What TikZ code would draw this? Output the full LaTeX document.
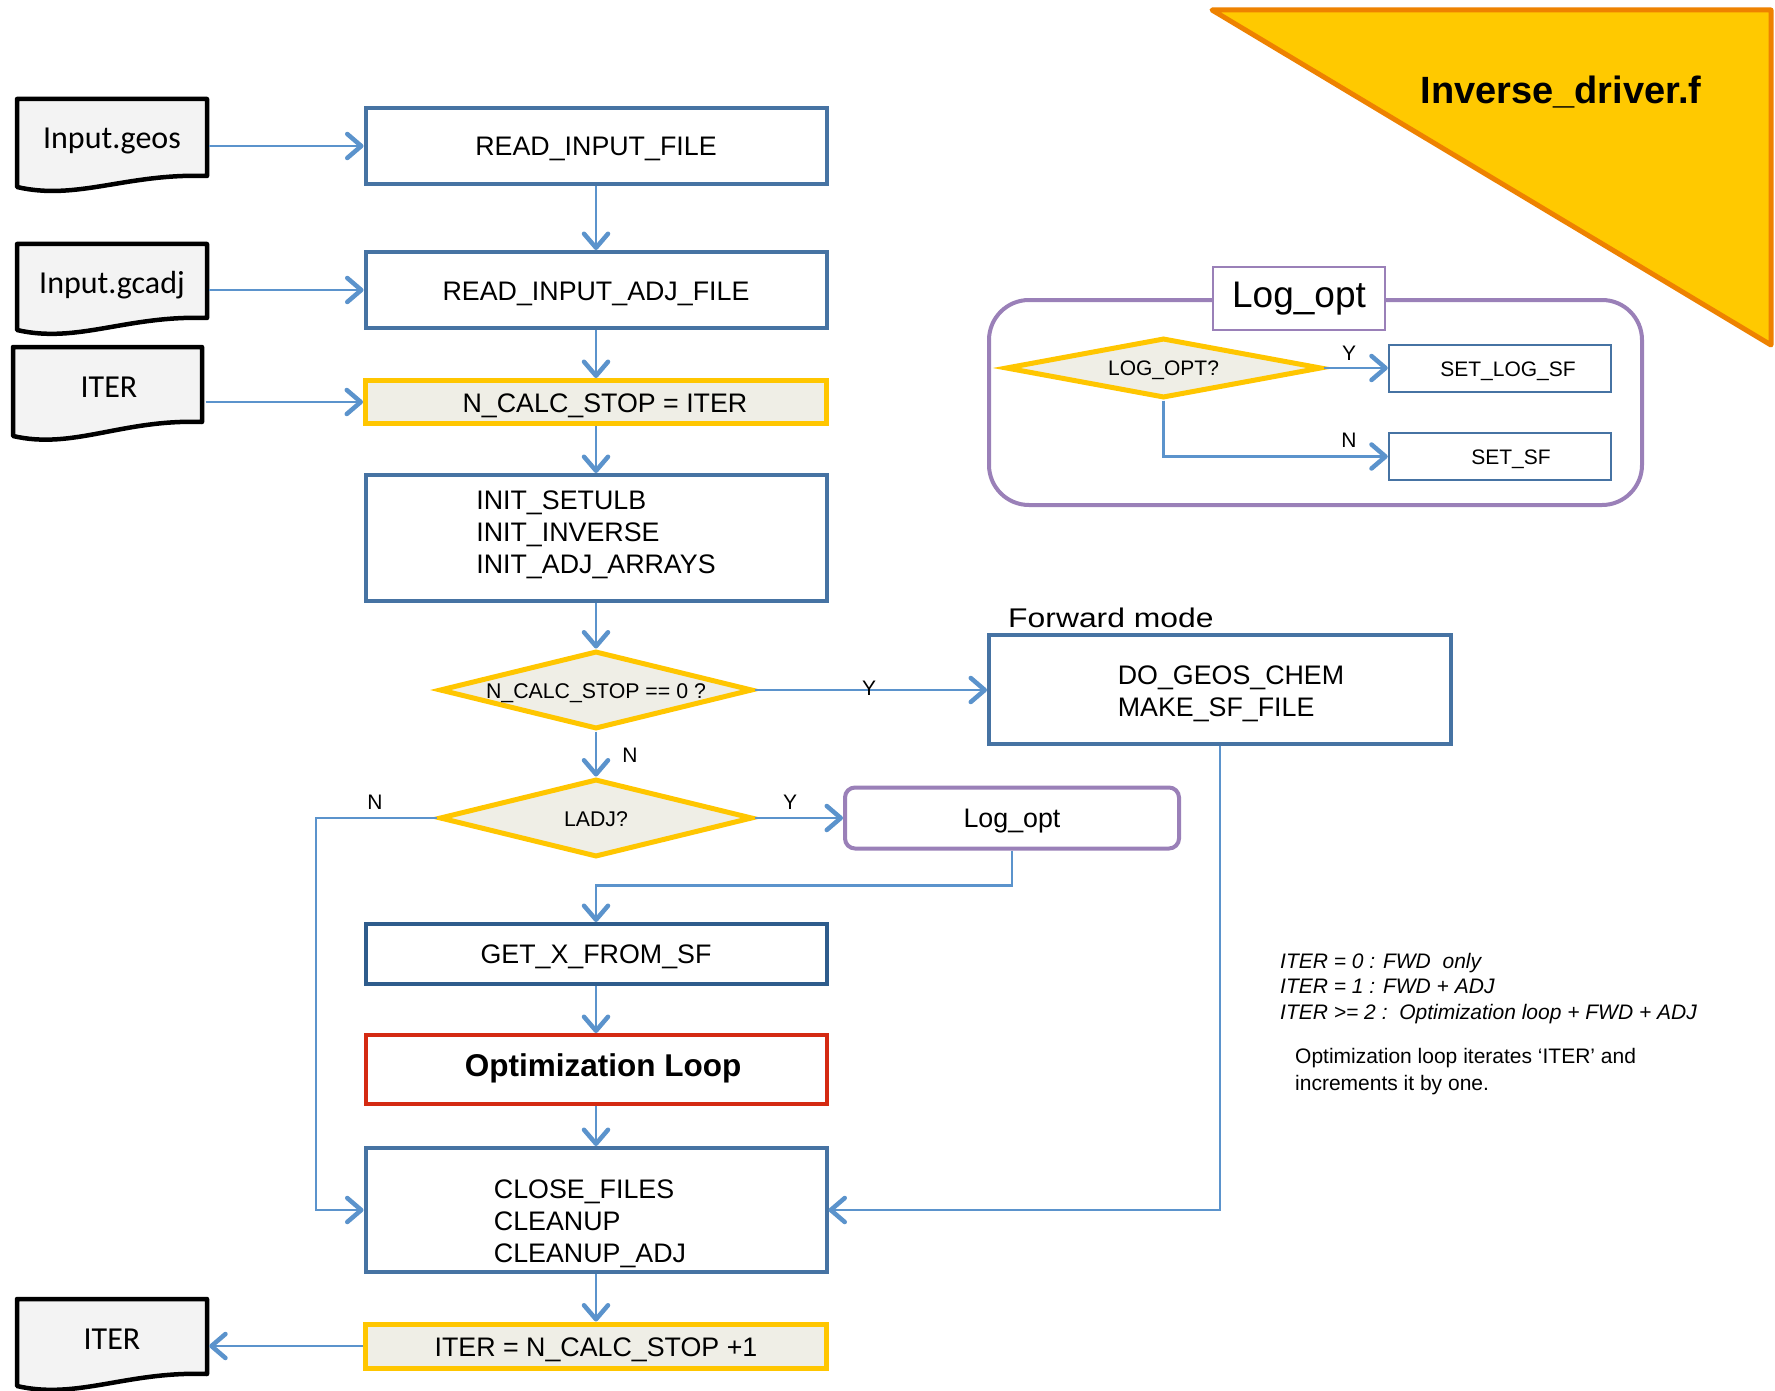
\documentclass[tikz,border=0pt]{standalone}
\usepackage{fontspec}
\setmainfont{Liberation Sans}
\newfontfamily\docfont{Carlito}
\usetikzlibrary{shapes.geometric,arrows.meta}

\definecolor{boxblue}{HTML}{4673A3}
\definecolor{darkblue}{HTML}{2E5C8C}
\definecolor{linkblue}{HTML}{5B93CC}
\definecolor{gold}{HTML}{FFC600}
\definecolor{paper}{HTML}{EFEEE6}
\definecolor{lilac}{HTML}{9A80B8}
\definecolor{alarm}{HTML}{D42A12}
\definecolor{sun}{HTML}{FFC900}
\definecolor{rust}{HTML}{EE8200}
\definecolor{sheet}{HTML}{F3F3F3}

% document (wavy-bottom) sheet: name, left x, top y, right x, right-bottom y, left-bottom y, centre x, baseline y, text
\newcommand{\docsheet}[9]{%
  \draw[sheetline] (#2,#3) -- (#4,#3) -- (#4,#5)
    .. controls +(-80,-3) and +(60,14) .. (#2,#6) -- cycle;
  \node[sheettext, minimum width=#4pt-#2pt+4pt, anchor=base] (#1) at (#7,#8) {#9};
}

\tikzset{
  sheetline/.style={draw=black, fill=sheet, line width=4.5pt, line join=round},
  sheettext/.style={inner sep=0pt, font=\docfont\fontsize{32}{36}\selectfont},
  flowbox/.style={draw=boxblue, fill=white, line width=4pt, minimum width=461pt,
    inner sep=0pt, text depth=0pt, text height=20pt,
    font=\fontsize{26.8}{32}\selectfont, align=left},
  setbox/.style={draw=gold, fill=paper, line width=5pt, minimum width=461pt,
    inner sep=0pt, text depth=0pt, text height=21pt,
    font=\fontsize{26.8}{32}\selectfont},
  decision/.style={diamond, aspect=4, draw=gold, fill=paper, line width=5pt,
    inner sep=0pt, text depth=0pt, text height=16pt,
    font=\fontsize{21.3}{25}\selectfont},
  small/.style={draw=boxblue, fill=white, line width=2.5pt, minimum width=222pt,
    minimum height=47pt, inner sep=0pt, text depth=0pt, text height=15pt,
    font=\fontsize{21}{25}\selectfont},
  tag/.style={inner sep=0pt, font=\fontsize{21}{25}\selectfont},
  link/.style={draw=linkblue, line width=2.5pt,
    -{Straight Barb[length=14pt,width=24pt,line width=4.5pt,round]}},
}

\begin{document}
\begin{tikzpicture}[x=1pt,y=-1pt]
\fill[white] (0,0) rectangle (1775,1391);
\useasboundingbox (0,0) rectangle (1775,1391);

% title corner
\draw[rust, fill=sun, line width=5pt, line join=round]
  (1212,10) -- (1771,10) -- (1771,345) -- cycle;
\node[anchor=base, inner sep=0pt, font=\bfseries\fontsize{38}{42}\selectfont]
  (title) at (1561,104) {Inverse\_driver.f};

% input / output sheets
\docsheet{geos}{17}{99}{207}{176}{187}{112}{149}{Input.geos}
\docsheet{gcadj}{17}{244}{207}{318}{330}{112}{293}{Input.gcadj}
\docsheet{iterin}{13}{347}{202}{422}{436}{109}{397}{ITER}
\docsheet{iterout}{17}{1299}{207}{1374}{1386}{112}{1349}{ITER}

% main flow
\node[flowbox, minimum height=76pt] (rif) at (596,146) {READ\_INPUT\_FILE};
\node[flowbox, minimum height=76pt] (riaf) at (596,290) {READ\_INPUT\_ADJ\_FILE};
\node[setbox, minimum height=43pt] (ncs) at (596,402) {\hspace*{18pt}N\_CALC\_STOP = ITER};
\node[flowbox, minimum height=126pt, text height=70pt] (init) at (596,538)
  {INIT\_SETULB\\INIT\_INVERSE\\INIT\_ADJ\_ARRAYS};
\node[decision, minimum width=313pt, minimum height=78pt] (d1) at (596,690)
  {N\_CALC\_STOP == 0 ?};
\node[decision, minimum width=313pt, minimum height=78pt] (d2) at (596,818) {LADJ?};
\node[draw=lilac, fill=white, line width=4pt, rounded corners=10pt,
  minimum width=334pt, minimum height=61pt, inner sep=0pt, text depth=0pt, text height=19pt,
  font=\fontsize{26.8}{32}\selectfont] (logbox) at (1012,818) {Log\_opt};
\node[flowbox, draw=darkblue, minimum height=60pt, text height=19pt] (getx) at (596,954)
  {GET\_X\_FROM\_SF};
\node[flowbox, draw=alarm, minimum height=69pt, text height=14pt,
  font=\bfseries\fontsize{31.5}{36}\selectfont] (opt) at (596,1069.5)
  {\hspace*{14pt}Optimization Loop};
\node[flowbox, minimum height=124pt, text height=104pt] (close) at (596,1210)
  {CLOSE\_FILES\\CLEANUP\\CLEANUP\_ADJ\hspace*{12pt}};
\node[setbox, minimum height=44pt] (iter2) at (596,1346) {ITER = N\_CALC\_STOP +1};

% forward mode
\node[flowbox, minimum width=462pt, minimum height=109pt, text height=53pt] (fwd) at (1220,689.5)
  {\hspace*{22pt}DO\_GEOS\_CHEM\\\hspace*{22pt}MAKE\_SF\_FILE};
\node[anchor=base west, inner sep=0pt, font=\fontsize{27}{32}\selectfont]
  (fwdlabel) at (1008,627) {\scalebox{1.18}[1]{Forward mode}};

% Log_opt detail
\draw[lilac, line width=4pt, rounded corners=40pt] (989,300) rectangle (1642,505);
\node[draw=lilac, fill=white, line width=2.5pt, minimum width=172pt, minimum height=63pt,
  inner sep=0pt, font=\fontsize{37}{42}\selectfont] (lotitle) at (1299,298.5) {Log\_opt};
\node[decision, minimum width=316pt, minimum height=60pt, text height=15pt,
  font=\fontsize{21}{25}\selectfont] (lodec) at (1163.5,368) {LOG\_OPT?};
\node[small] (setlog) at (1500,368.5) {\hspace*{16pt}SET\_LOG\_SF};
\node[small] (setsf) at (1500,456.5) {\hspace*{22pt}SET\_SF};
\draw[link] (lodec.east) -- (lodec.east -| setlog.west);
\draw[link] (lodec.south) |- (setsf.west);
\node[tag] (ly) at (1349,353) {Y};
\node[tag] (ln) at (1349,440) {N};

% connectors
\draw[link] (geos.east |- rif.west) -- (rif.west);
\draw[link] (gcadj.east |- riaf.west) -- (riaf.west);
\draw[link] (iterin.east |- ncs.west) -- (ncs.west);
\draw[link] (rif) -- (riaf);
\draw[link] (riaf) -- (ncs);
\draw[link] (ncs) -- (init);
\draw[link] (init) -- (d1);
\draw[link] (d1) -- (d2);
\draw[link] (d1.east) -- (d1.east -| fwd.west);
\draw[link] (d2.east) -- (d2.east -| logbox.west);
\draw[link] (logbox.south) -- ++(0,35) -| (getx.north);
\draw[link] (getx) -- (opt);
\draw[link] (opt) -- (close);
\draw[link] (close) -- (iter2);
\draw[link] (d2.west) -- ++(-121,0) |- (close.west);
\draw[link] (fwd.south) |- (close.east);
\draw[link] (iter2.west) -- (iter2.west -| iterout.east);

% branch labels
\node[tag] (y1) at (869,688) {Y};
\node[tag] (n1) at (630,755) {N};
\node[tag] (y2) at (790,802) {Y};
\node[tag] (n2) at (375,802) {N};

% notes
\node[anchor=base west, inner sep=0pt, font=\itshape\fontsize{21}{25.5}\selectfont] (notes) at (1280,968)
  {\begin{tabular}[t]{@{}l@{}}ITER = 0 : FWD\ \ only\\ITER = 1 : FWD + ADJ\\ITER >= 2 :\ \ Optimization loop + FWD + ADJ\end{tabular}};
\node[anchor=base west, inner sep=0pt, font=\fontsize{21}{27}\selectfont] (loopnote) at (1295,1063)
  {\begin{tabular}[t]{@{}l@{}}Optimization loop iterates `ITER' and\\increments it by one.\end{tabular}};
\end{tikzpicture}
\end{document}
